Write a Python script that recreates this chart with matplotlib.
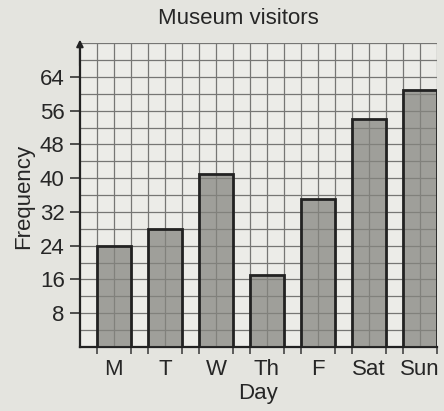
import numpy as np
import matplotlib.pyplot as plt

# Museum visitors per day
days = ['M', 'T', 'W', 'Th', 'F', 'Sat', 'Sun']
visitors = [24, 28, 41, 17, 35, 54, 61]
y_ticks = [8, 16, 24, 32, 40, 48, 56, 64]

plt.rcParams['font.family'] = ['Liberation Sans', 'DejaVu Sans']

paper = '#e4e4df'
ink = '#262626'
fig = plt.figure(figsize=(4.44, 4.11), dpi=100, facecolor=paper)
ax = fig.add_axes([0.180, 0.156, 0.804, 0.739])
ax.set_facecolor('#ecece8')

# each day takes 3 grid cells: 1 gap + 2 bar
pos = np.arange(len(days)) * 3 + 2
ax.bar(pos, visitors, width=2, color=(0.52, 0.52, 0.50, 0.75),
       edgecolor='#222222', linewidth=2, zorder=3)

# graph paper grid
ax.set_xlim(0, 21)
ax.set_ylim(0, 72)
for x in range(1, 22):
    ax.axvline(x, color='#767674', lw=0.9, zorder=2)
for y in range(4, 73, 4):
    ax.axhline(y, color='#767674', lw=0.9, zorder=2)

ax.set_yticks(y_ticks)
ax.set_xticks(pos)
ax.set_xticklabels(days)
edges = sorted(set(list(pos - 1) + list(pos + 1)))
ax.set_xticks(edges, minor=True)
ax.tick_params(axis='y', labelsize=16, length=7, width=1.2, color='#333333',
               pad=4, labelcolor=ink)
ax.tick_params(axis='x', which='major', labelsize=16, length=0, pad=9,
               labelcolor=ink)
ax.tick_params(axis='x', which='minor', length=5, width=1.2, color='#444444')

for s in ['top', 'right']:
    ax.spines[s].set_visible(False)
for s in ['left', 'bottom']:
    ax.spines[s].set_linewidth(1.6)
    ax.spines[s].set_color('#222222')
ax.annotate('', xy=(0, 73.5), xytext=(0, 66), xycoords='data',
            arrowprops=dict(arrowstyle='-|>', color='#222222', lw=1.4,
                            mutation_scale=10), annotation_clip=False)

fig.text(238 / 444, 1 - 18 / 411, 'Museum visitors', fontsize=16,
         ha='center', va='center', color=ink)
fig.text(258 / 444, 1 - 393 / 411, 'Day', fontsize=16,
         ha='center', va='center', color=ink)
fig.text(24 / 444, 1 - 196 / 411, 'Frequency', fontsize=16, rotation=90,
         ha='center', va='center', color=ink)

fig.savefig('out.png', dpi=100, facecolor=paper)
